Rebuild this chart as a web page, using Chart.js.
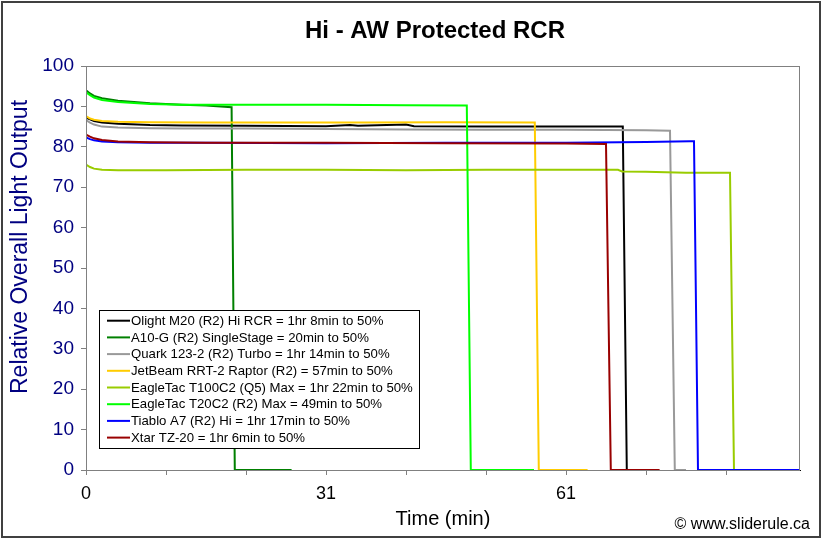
<!DOCTYPE html>
<html>
<head>
<meta charset="utf-8">
<title>Hi - AW Protected RCR</title>
<script src="https://cdn.jsdelivr.net/npm/chart.js@4.4.1/dist/chart.umd.min.js"></script>
<style>
  html, body { margin: 0; padding: 0; background: #fff; }
  #wrap { width: 824px; height: 541px; position: relative; }
</style>
</head>
<body>
<div id="wrap"><canvas id="chart" width="824" height="541"></canvas></div>
<script>
// runtimes: time in minutes, output relative (0-100)
const labels = [
  'Olight M20 (R2) Hi RCR = 1hr 8min to 50%',
  'A10-G (R2) SingleStage = 20min to 50%',
  'Quark 123-2 (R2) Turbo = 1hr 14min to 50%',
  'JetBeam RRT-2 Raptor (R2) = 57min to 50%',
  'EagleTac T100C2 (Q5) Max = 1hr 22min to 50%',
  'EagleTac T20C2 (R2) Max = 49min to 50%',
  'Tiablo A7 (R2) Hi = 1hr 17min to 50%',
  'Xtar TZ-20 = 1hr 6min to 50%'
];

const olightT = [0, 0.5, 1, 2, 4, 8, 12, 20, 30, 33, 34, 40, 41, 50, 60, 67.1, 67.6, 69];
const olightV = [87.2, 86.8, 86.4, 86.0, 85.7, 85.4, 85.3, 85.2, 85.1, 85.4, 85.2, 85.5, 85.1, 85.0, 85.0, 85.0, 0, 0];

const a10T = [0, 0.5, 1, 2, 4, 8, 12, 15, 18.2, 18.6, 25.7];
const a10V = [94.0, 93.2, 92.6, 92.0, 91.4, 90.8, 90.4, 90.2, 89.8, 0, 0];

const quarkT = [0, 0.5, 1, 2, 4, 8, 12, 20, 30, 40, 50, 60, 70, 73.0, 73.6, 75];
const quarkV = [86.6, 86.0, 85.5, 85.0, 84.8, 84.6, 84.5, 84.5, 84.4, 84.3, 84.2, 84.2, 84.1, 84.0, 0, 0];

const jetbeamT = [0, 0.5, 1, 2, 4, 8, 15, 25, 35, 45, 56.1, 56.6, 62.7];
const jetbeamV = [87.6, 87.0, 86.7, 86.4, 86.2, 86.1, 86.0, 86.0, 86.0, 86.1, 86.0, 0, 0];

const t100T = [0, 0.5, 1, 2, 4, 10, 20, 30, 40, 50, 60, 66.5, 67, 70, 75, 80.5, 81.0];
const t100V = [75.6, 75.0, 74.6, 74.3, 74.2, 74.2, 74.3, 74.3, 74.2, 74.3, 74.3, 74.3, 73.9, 73.8, 73.6, 73.6, 0];

const t20T = [0, 0.5, 1, 2, 4, 8, 12, 20, 30, 40, 47.6, 48.1, 56];
const t20V = [93.5, 92.8, 92.2, 91.6, 91.1, 90.6, 90.4, 90.4, 90.4, 90.3, 90.2, 0, 0];

const tiabloT = [0, 0.5, 1, 2, 4, 8, 15, 30, 45, 60, 70, 75.5, 76.0, 76.5, 89.25];
const tiabloV = [82.3, 81.9, 81.6, 81.3, 81.1, 81.0, 81.0, 80.9, 81.0, 81.0, 81.2, 81.4, 81.4, 0, 0];

const xtarT = [0, 0.5, 1, 2, 4, 8, 15, 30, 45, 60, 65.0, 65.6, 71.7];
const xtarV = [83.0, 82.5, 82.1, 81.7, 81.3, 81.1, 81.0, 81.0, 80.9, 80.8, 80.7, 0, 0];

// excel-ish category labels under every third tick
const xTickLabels = ['0', '', '', '31', '', '', '61', '', ''];
const yTicks = [0, 10, 20, 30, 40, 50, 60, 70, 80, 90, 100];

const runs = [
  [olightT, olightV], [a10T, a10V], [quarkT, quarkV], [jetbeamT, jetbeamV],
  [t100T, t100V], [t20T, t20V], [tiabloT, tiabloV], [xtarT, xtarV]
];
const colors = ['#000000', '#008000', '#999999', '#FFCC00', '#99CC00', '#00FF00', '#0000FF', '#990000'];

const FONT = "'Liberation Sans', Arial, sans-serif";
Chart.defaults.font.family = FONT;

function pairUp(ts, vs) {
  return ts.map((t, i) => ({x: t, y: vs[i]}));
}

const datasets = runs.map((r, i) => ({
  label: labels[i],
  data: pairUp(r[0], r[1]),
  borderColor: colors[i],
  backgroundColor: colors[i],
  borderWidth: 2,
  pointRadius: 0,
  tension: 0,
  fill: false,
  order: runs.length - i   // later series on top, like excel
}));

// frame, titles, footer and the boxed legend
const decor = {
  id: 'decor',
  beforeDraw(chart) {
    const ctx = chart.ctx;
    ctx.save();
    ctx.fillStyle = '#fff';
    ctx.fillRect(0, 0, chart.width, chart.height);
    ctx.restore();
  },
  afterDatasetsDraw(chart) {
    const ctx = chart.ctx;
    const a = chart.chartArea;
    ctx.save();
    // plot area border
    ctx.strokeStyle = '#808080';
    ctx.lineWidth = 1;
    ctx.strokeRect(a.left + 0.5, a.top + 0.5, a.right - a.left - 1, a.bottom - a.top);

    // legend
    const lx = 99.5, ly = 310.5, lw = 320, lh = 138;
    ctx.fillStyle = '#fff';
    ctx.fillRect(lx, ly, lw, lh);
    ctx.strokeStyle = '#000';
    ctx.strokeRect(lx, ly, lw, lh);
    ctx.font = '13.2px ' + FONT;
    ctx.textBaseline = 'middle';
    ctx.textAlign = 'left';
    chart.data.datasets.forEach((ds, i) => {
      const y = 320.7 + i * 16.7;
      ctx.strokeStyle = ds.borderColor;
      ctx.lineWidth = 2;
      ctx.beginPath();
      ctx.moveTo(107, y);
      ctx.lineTo(130, y);
      ctx.stroke();
      ctx.fillStyle = '#000';
      ctx.fillText(ds.label, 131, y + 0.5);
    });
    ctx.restore();
  },
  afterDraw(chart) {
    const ctx = chart.ctx;
    ctx.save();
    ctx.fillStyle = '#000';
    ctx.textBaseline = 'middle';
    ctx.textAlign = 'center';
    ctx.font = 'bold 24px ' + FONT;
    ctx.fillText('Hi - AW Protected RCR', 435, 31);
    ctx.textAlign = 'right';
    ctx.font = '16px ' + FONT;
    ctx.fillText('\u00A9 www.sliderule.ca', 810, 525);

    // y axis title sits a bit above centre in the original
    ctx.save();
    ctx.translate(21, 247);
    ctx.rotate(-Math.PI / 2);
    ctx.textAlign = 'center';
    ctx.fillStyle = '#000080';
    ctx.font = '23px ' + FONT;
    ctx.fillText('Relative Overall Light Output', 0, 0);
    ctx.restore();

    // outer frame
    ctx.strokeStyle = '#404040';
    ctx.lineWidth = 2;
    ctx.strokeRect(2, 2, 818, 535);
    ctx.restore();
  }
};

new Chart(document.getElementById('chart'), {
  type: 'line',
  data: {datasets},
  options: {
    responsive: false,
    animation: false,
    devicePixelRatio: 1,
    layout: {padding: {top: 66, right: 24, left: 0, bottom: 0}},
    plugins: {
      legend: {display: false},
      tooltip: {enabled: false},
      title: {display: false}
    },
    scales: {
      x: {
        type: 'linear',
        min: 0,
        max: 89.25,
        afterFit(scale) { scale.height = 71; },
        border: {display: true, color: '#000', width: 1},
        grid: {drawOnChartArea: false, drawTicks: true, tickLength: 5, color: '#808080'},
        ticks: {
          stepSize: 10,
          includeBounds: false,
          autoSkip: false,
          maxRotation: 0,
          padding: 8,
          color: '#000',
          font: {size: 18},
          callback: (v, i) => xTickLabels[i] ?? ''
        },
        title: {display: true, text: 'Time (min)', color: '#000', font: {size: 20}, padding: {top: 0, bottom: 10}}
      },
      y: {
        min: 0,
        max: 100,
        afterFit(scale) { scale.width = 86; },
        afterBuildTicks(scale) { scale.ticks = yTicks.map(v => ({value: v})); },
        border: {display: true, color: '#000', width: 1},
        grid: {drawOnChartArea: false, drawTicks: true, tickLength: 5, color: '#808080'},
        ticks: {
          padding: 7,
          color: '#000080',
          font: {size: 19}
        },
        title: {display: false}
      }
    }
  },
  plugins: [decor]
});
</script>
</body>
</html>
